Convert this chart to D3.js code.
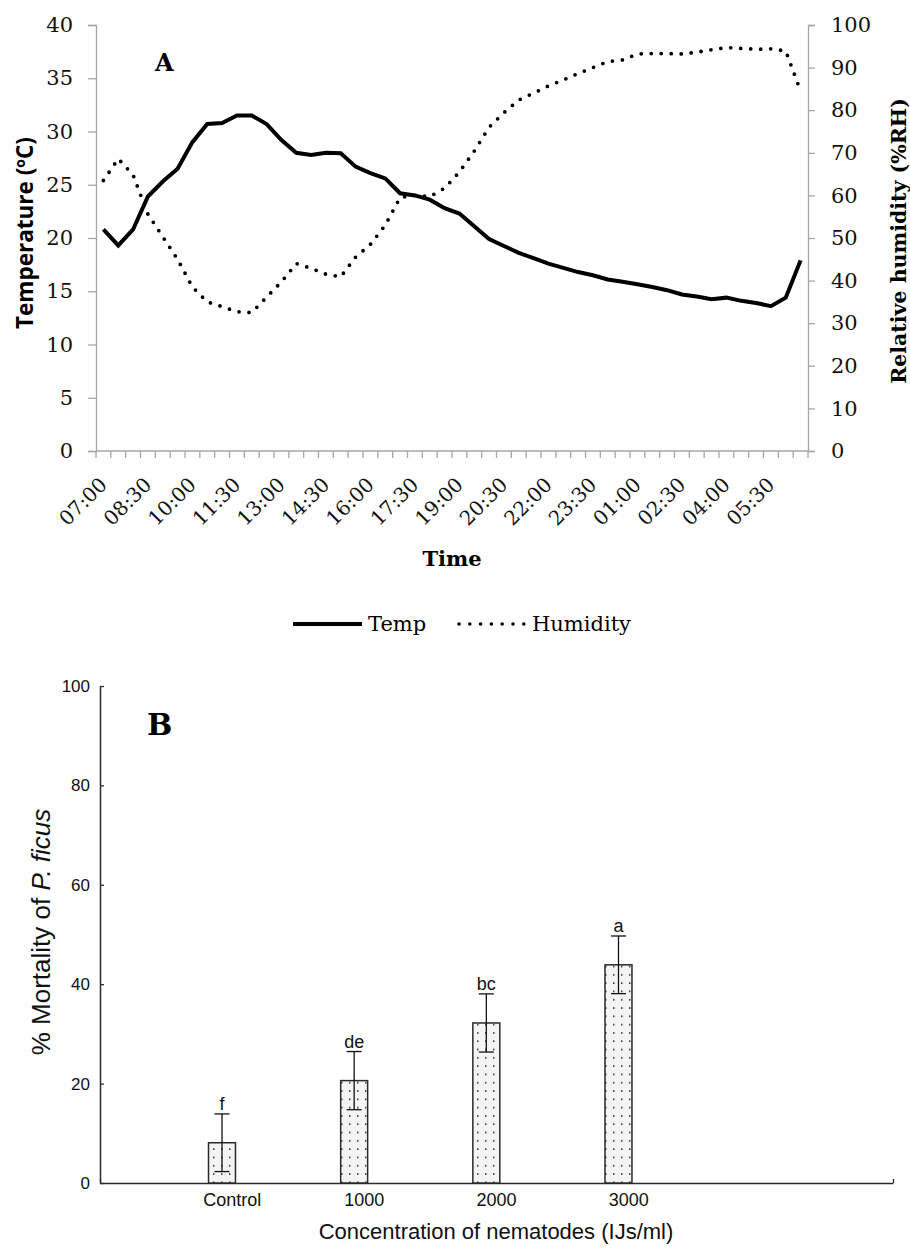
<!DOCTYPE html>
<html><head><meta charset="utf-8">
<script src="https://cdn.jsdelivr.net/npm/d3@7"></script>
<style>body{margin:0;background:#fff}svg{display:block}</style>
</head><body>
<svg id="c" width="910" height="1249"></svg>
<script>
// ---------- Data: panel A ----------
const times = ["07:00","07:30","08:00","08:30","09:00","09:30","10:00","10:30","11:00","11:30","12:00","12:30",
"13:00","13:30","14:00","14:30","15:00","15:30","16:00","16:30","17:00","17:30","18:00","18:30",
"19:00","19:30","20:00","20:30","21:00","21:30","22:00","22:30","23:00","23:30","00:00","00:30",
"01:00","01:30","02:00","02:30","03:00","03:30","04:00","04:30","05:00","05:30","06:00","06:30"];
const temp = [20.8,19.3,20.8,23.9,25.3,26.5,29.0,30.7,30.8,31.5,31.5,30.7,
29.2,28.0,27.8,28.0,27.95,26.7,26.1,25.6,24.2,24.0,23.6,22.8,
22.3,21.1,19.9,19.25,18.6,18.1,17.6,17.2,16.8,16.5,16.1,15.9,
15.65,15.4,15.1,14.7,14.5,14.25,14.4,14.1,13.9,13.6,14.4,17.9];
const humidity = [63.5,68.6,64.8,55.6,50.3,45.0,38.5,35.0,33.9,32.7,32.5,36.1,
39.7,44.0,42.9,41.5,40.9,45.5,48.5,53.0,59.5,60.0,59.7,61.7,
65.5,70.4,76.0,79.4,82.4,84.0,85.7,87.1,88.6,90.0,91.4,91.8,
93.2,93.3,93.3,93.2,93.6,94.2,94.7,94.5,94.3,94.4,93.9,84.5];
const tempTicks = [0,5,10,15,20,25,30,35,40];
const rhTicks = [0,10,20,30,40,50,60,70,80,90,100];
const legendLabels = ["Temp","Humidity"];

// ---------- Data: panel B ----------
const concentrations = ["Control","1000","2000","3000"];
const mortality = [8.1,20.6,32.2,43.9];
const mortalityErr = [5.8,5.85,5.85,5.8];
const groupLetters = ["f","de","bc","a"];
const mortTicks = [0,20,40,60,80,100];
const xTickPositions = [0,1,2,3,4,6];

const svg = d3.select("#c");
const SERIF = "'DejaVu Serif', serif";
const SANS = "'Liberation Sans', Arial, sans-serif";

// ================= Panel A =================
const A = {left:96, right:808, top:25, bottom:451};
const gA = svg.append("g");
const x = d3.scaleBand().domain(times).range([A.left, A.right]).padding(0);
const yT = d3.scaleLinear().domain([0,40]).range([A.bottom, A.top]);
const yH = d3.scaleLinear().domain([0,100]).range([A.bottom, A.top]);
const axisCol = "#a6a6a6";

const la = gA.append("g").attr("transform",`translate(${A.left},0)`)
  .call(d3.axisLeft(yT).tickValues(tempTicks).tickSize(8).tickPadding(15));
const ra = gA.append("g").attr("transform",`translate(${A.right},0)`)
  .call(d3.axisRight(yH).tickValues(rhTicks).tickSize(7).tickPadding(16));
[la,ra].forEach(g=>{
  g.attr("font-family",SERIF).attr("font-size",21);
  g.select(".domain").attr("stroke",axisCol).attr("stroke-width",1.3);
  g.selectAll(".tick line").attr("stroke",axisCol).attr("stroke-width",1.3);
  g.selectAll(".tick text").attr("font-family",SERIF).attr("font-size",21).attr("fill","#111");
});
gA.append("line").attr("x1",A.left).attr("x2",A.right).attr("y1",A.bottom).attr("y2",A.bottom)
  .attr("stroke",axisCol).attr("stroke-width",1.3);
const bounds = times.map(t=>x(t)).concat([A.right]);
gA.selectAll("line.xt").data(bounds).join("line").attr("class","xt")
  .attr("x1",d=>d).attr("x2",d=>d).attr("y1",A.bottom).attr("y2",A.bottom+7)
  .attr("stroke",axisCol).attr("stroke-width",1.3);
const shown = times.filter((t,i)=>i%3===0);
gA.selectAll("text.xl").data(shown).join("text").attr("class","xl")
  .attr("transform",d=>`translate(${x(d)+x.bandwidth()/2-5},${A.bottom+25}) rotate(-45)`)
  .attr("text-anchor","end").attr("dy","0.7em")
  .attr("font-family",SERIF).attr("font-size",20).attr("fill","#111").text(d=>d);

const lineT = d3.line().x((d,i)=>x(times[i])+x.bandwidth()/2).y(d=>yT(d));
const lineH = d3.line().x((d,i)=>x(times[i])+x.bandwidth()/2).y(d=>yH(d));
gA.append("path").datum(humidity).attr("d",lineH).attr("fill","none")
  .attr("stroke","#000").attr("stroke-width",3.8).attr("stroke-linecap","round")
  .attr("stroke-dasharray","0 10");
gA.append("path").datum(temp).attr("d",lineT).attr("fill","none")
  .attr("stroke","#000").attr("stroke-width",4).attr("stroke-linejoin","miter");

gA.append("text").attr("transform",`translate(33,233) rotate(-90)`).attr("text-anchor","middle")
  .attr("font-family","'Open Sans', sans-serif").attr("font-weight","bold").attr("font-size",22.5)
  .text("Temperature (ºC)");
gA.append("text").attr("transform",`translate(906,241) rotate(-90)`).attr("text-anchor","middle")
  .attr("font-family",SERIF).attr("font-weight","bold").attr("font-size",20.5)
  .text("Relative humidity (%RH)");
gA.append("text").attr("x",452).attr("y",566).attr("text-anchor","middle")
  .attr("font-family",SERIF).attr("font-weight","bold").attr("font-size",21).text("Time");
gA.append("text").attr("x",155).attr("y",71)
  .attr("font-family",SERIF).attr("font-weight","bold").attr("font-size",24).text("A");

const lg = gA.append("g");
lg.append("line").attr("x1",293).attr("x2",362).attr("y1",624).attr("y2",624)
  .attr("stroke","#000").attr("stroke-width",4);
lg.append("text").attr("x",368).attr("y",631).attr("font-family",SERIF).attr("font-size",21).text(legendLabels[0]);
lg.append("line").attr("x1",459).attr("x2",524).attr("y1",624).attr("y2",624)
  .attr("stroke","#000").attr("stroke-width",3.6).attr("stroke-linecap","round").attr("stroke-dasharray","0 10.8");
lg.append("text").attr("x",532).attr("y",631).attr("font-family",SERIF).attr("font-size",21).text(legendLabels[1]);

// ================= Panel B =================
const B = {left:100, right:893, top:686, bottom:1183};
const gB = svg.append("g");
const defs = svg.append("defs");
const pat = defs.append("pattern").attr("id","dots").attr("patternUnits","userSpaceOnUse")
  .attr("width",8).attr("height",8.3).attr("x",2).attr("y",0);
pat.append("rect").attr("width",8).attr("height",8.3).attr("fill","#f4f4f4");
pat.append("rect").attr("x",3).attr("y",3).attr("width",1.5).attr("height",1.5).attr("fill","#222");

const xb = d3.scaleLinear().domain([0,6]).range([B.left,B.right]);
const yb = d3.scaleLinear().domain([0,100]).range([B.bottom,B.top]);
const bCol = "#2a2a2a";

const yaxB = gB.append("g").attr("transform",`translate(${B.left},0)`)
  .call(d3.axisLeft(yb).tickValues(mortTicks).tickSizeInner(-4).tickSizeOuter(0).tickPadding(10));
yaxB.select(".domain").attr("stroke",bCol).attr("stroke-width",1.5);
yaxB.selectAll(".tick line").attr("stroke",bCol).attr("stroke-width",1.3);
yaxB.selectAll(".tick text").attr("font-family",SANS).attr("font-size",17).attr("fill","#111");

const xaxB = gB.append("g").attr("transform",`translate(0,${B.bottom})`)
  .call(d3.axisBottom(xb).tickValues(xTickPositions).tickSizeInner(-4).tickSizeOuter(0).tickFormat(""));
xaxB.select(".domain").attr("stroke",bCol).attr("stroke-width",1.5);
xaxB.selectAll(".tick line").attr("stroke",bCol).attr("stroke-width",1.3);

gB.selectAll("text.cl").data(concentrations).join("text").attr("class","cl")
  .attr("x",(d,i)=>xb(i+1)).attr("y",B.bottom+23).attr("text-anchor","middle")
  .attr("font-family",SANS).attr("font-size",18).attr("fill","#111").text(d=>d);

const bw = xb(0.204)-xb(0);
const bc = i => xb(i+1-0.077);
gB.selectAll("rect.bar").data(mortality).join("rect").attr("class","bar")
  .attr("x",(d,i)=>bc(i)-bw/2).attr("width",bw)
  .attr("y",d=>yb(d)).attr("height",d=>yb(0)-yb(d))
  .attr("fill","url(#dots)").attr("stroke",bCol).attr("stroke-width",1.5);

const capW = 15;
mortality.forEach((m,i)=>{
  const cx = bc(i), hi = yb(m+mortalityErr[i]), lo = yb(m-mortalityErr[i]);
  gB.append("line").attr("x1",cx).attr("x2",cx).attr("y1",hi).attr("y2",lo).attr("stroke","#111").attr("stroke-width",1.3);
  [hi,lo].forEach(yy=>gB.append("line").attr("x1",cx-capW/2).attr("x2",cx+capW/2).attr("y1",yy).attr("y2",yy)
    .attr("stroke","#111").attr("stroke-width",1.3));
  gB.append("text").attr("x",cx).attr("y",hi-4).attr("text-anchor","middle")
    .attr("font-family",SANS).attr("font-size",18).attr("fill","#111").text(groupLetters[i]);
});

gB.append("text").attr("x",147).attr("y",735)
  .attr("font-family",SERIF).attr("font-weight","bold").attr("font-size",30).text("B");
gB.append("text").attr("x",496).attr("y",1239).attr("text-anchor","middle")
  .attr("font-family",SANS).attr("font-size",22).attr("fill","#111").text("Concentration of nematodes (IJs/ml)");
const yt = gB.append("text").attr("transform",`translate(50,932) rotate(-90)`).attr("text-anchor","middle")
  .attr("font-family",SANS).attr("font-size",26).attr("fill","#111");
yt.append("tspan").text("% Mortality of ");
yt.append("tspan").attr("font-style","italic").text("P. ficus");
</script>
</body></html>
